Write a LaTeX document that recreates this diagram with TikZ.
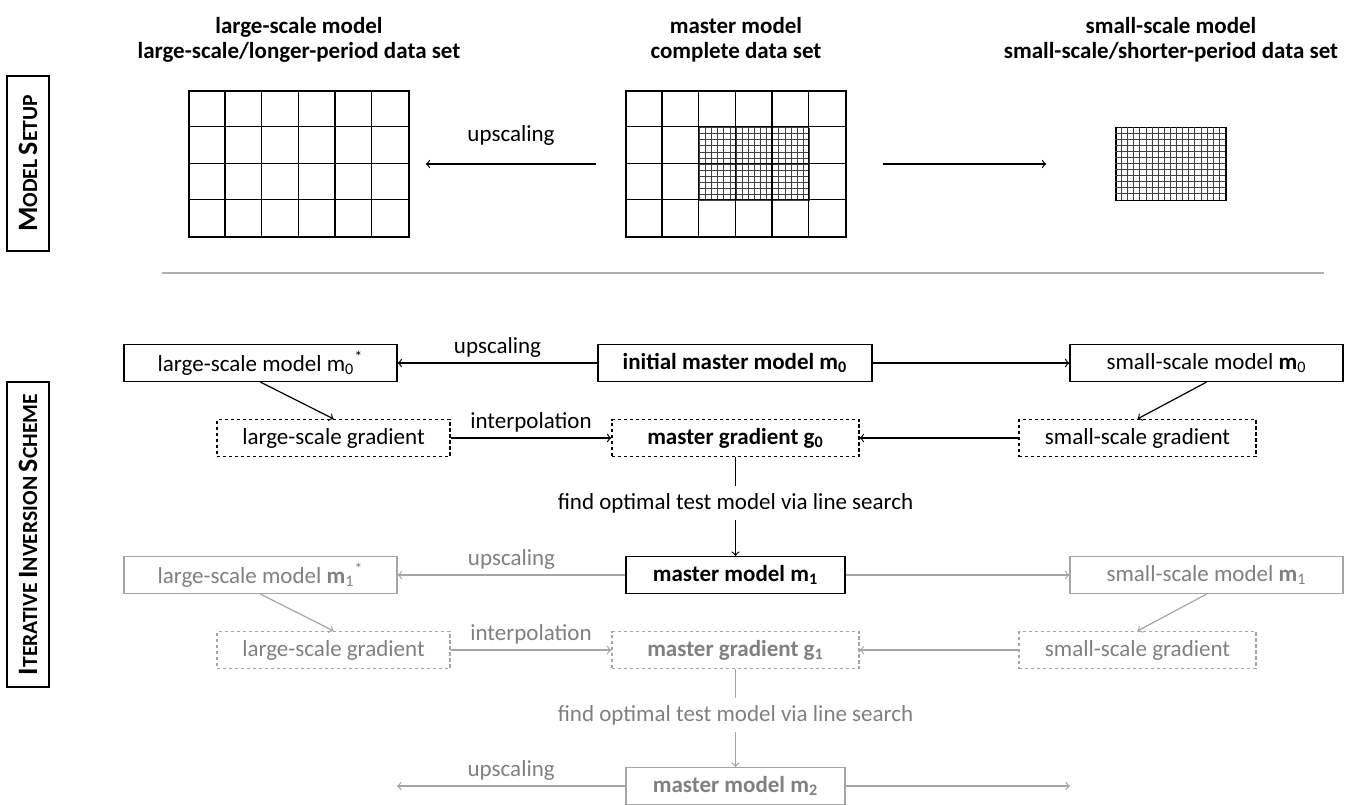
\documentclass[tikz,border=0pt]{standalone}
\usepackage{fontspec}
\setmainfont{Carlito}
\usetikzlibrary{positioning}

\definecolor{fadeline}{RGB}{165,165,165}
\definecolor{fadetext}{RGB}{128,128,128}
\definecolor{sepgray}{RGB}{175,175,175}

\newcommand{\boxfont}{\fontsize{11.5}{12.5}\selectfont}
\newcommand{\capsc}[2]{{\fontsize{14}{15}\selectfont #1}{\fontsize{10.8}{12}\selectfont #2}}

\begin{document}
\begin{tikzpicture}[x=0.5pt, y=-0.5pt, line width=0.6pt,
    every node/.style={font=\boxfont},
    modelbox/.style={draw, inner sep=0pt, minimum height=18.5pt},
    gradbox/.style={modelbox, dash pattern=on 1.6pt off 1.4pt},
    fadebox/.style={draw=fadeline, text=fadetext},
    gridframe/.style={draw, inner sep=0pt, line width=0.7pt},
    fineline/.style={line width=0.3pt, draw=black!75},
    lbl/.style={inner sep=2pt},
    sidebox/.style={draw, rotate=90, inner sep=0pt, minimum height=21pt, line width=0.7pt, font=\bfseries}]
    \useasboundingbox (0,0) rectangle (1352,804);

    \node[sidebox, minimum width=87.5pt] (setup) at (28,163.5) {\capsc{M}{ODEL} \capsc{S}{ETUP}};
    \node[sidebox, minimum width=152.5pt] (scheme) at (28,534.5) {\capsc{I}{TERATIVE} \capsc{I}{NVERSION} \capsc{S}{CHEME}};

    \node[align=center, font=\boxfont\bfseries] (lhead) at (299,40) {large-scale model\\large-scale/longer-period data set};
    \node[align=center, font=\boxfont\bfseries] (mhead) at (736,40) {master model\\complete data set};
    \node[align=center, font=\boxfont\bfseries] (shead) at (1171,40) {small-scale model\\small-scale/shorter-period data set};

    \node[gridframe, minimum width=110pt, minimum height=73pt] (lgrid) at (299,164) {};
    \foreach \i in {1,...,5}
        \draw (lgrid.north west) ++(\i*36.67,0) -- ++(0,146);
    \foreach \j in {1,...,3}
        \draw (lgrid.north west) ++(0,\j*36.5) -- ++(220,0);

    \node[gridframe, minimum width=110pt, minimum height=73pt] (mgrid) at (736,164) {};
    \coordinate (fine) at (699.3,127.5);
    \foreach \i in {0,...,18}
        \draw[fineline] (fine) ++(\i*6.111,0) -- ++(0,73);
    \foreach \j in {0,...,12}
        \draw[fineline] (fine) ++(0,\j*6.083) -- ++(110,0);
    \foreach \i in {1,...,5}
        \draw (mgrid.north west) ++(\i*36.67,0) -- ++(0,146);
    \foreach \j in {1,...,3}
        \draw (mgrid.north west) ++(0,\j*36.5) -- ++(220,0);

    \node[gridframe, minimum width=55pt, minimum height=36.5pt] (sgrid) at (1171,164) {};
    \foreach \i in {1,...,17}
        \draw[fineline] (sgrid.north west) ++(\i*6.111,0) -- ++(0,73);
    \foreach \j in {1,...,11}
        \draw[fineline] (sgrid.north west) ++(0,\j*6.083) -- ++(110,0);

    \draw[->] ([xshift=-14.5pt]mgrid.west) -- node[lbl, above=7pt] {upscaling} ([xshift=8pt]lgrid.east);
    \draw[->] ([xshift=18pt]mgrid.east) -- ([xshift=-34.5pt]sgrid.west);

    \draw[sepgray, line width=1pt] (162,273) -- (1324,273);

    \node[modelbox, minimum width=136.5pt] (lsm0) at (260.5,363) {large-scale model m\textsubscript{0}\textsuperscript{*}};
    \node[modelbox, minimum width=137pt, font=\boxfont\bfseries] (mm0) at (735,363) {initial master model m\textsubscript{0}};
    \node[modelbox, minimum width=136.5pt] (ssm0) at (1206.5,363) {small-scale model \textbf{m}\textsubscript{0}};

    \node[gradbox, minimum width=116.5pt] (lsg0) at (333.5,438) {large-scale gradient};
    \node[gradbox, minimum width=123.5pt, font=\boxfont\bfseries] (mg0) at (735.5,438) {master gradient g\textsubscript{0}};
    \node[gradbox, minimum width=118.5pt] (ssg0) at (1137.5,438) {small-scale gradient};
    \node (find0) at (735.5,503) {find optimal test model via line search};

    \node[modelbox, fadebox, minimum width=136.5pt] (lsm1) at (260.5,575) {large-scale model \textbf{m}\textsubscript{1}\textsuperscript{*}};
    \node[modelbox, minimum width=109.5pt, font=\boxfont\bfseries] (mm1) at (735.5,575) {master model m\textsubscript{1}};
    \node[modelbox, fadebox, minimum width=136.5pt] (ssm1) at (1206.5,575) {small-scale model \textbf{m}\textsubscript{1}};

    \node[gradbox, fadebox, minimum width=116.5pt] (lsg1) at (333.5,650) {large-scale gradient};
    \node[gradbox, fadebox, minimum width=123.5pt, font=\boxfont\bfseries] (mg1) at (735.5,650) {master gradient g\textsubscript{1}};
    \node[gradbox, fadebox, minimum width=118.5pt] (ssg1) at (1137.5,650) {small-scale gradient};
    \node[text=fadetext] (find1) at (735.5,715) {find optimal test model via line search};

    \node[modelbox, fadebox, minimum width=109.5pt, font=\boxfont\bfseries] (mm2) at (735.5,786) {master model m\textsubscript{2}};
    \coordinate (lsm2) at (397,786);
    \coordinate (ssm2) at (1070,786);

    \draw[->] (mm0) -- node[lbl, above=0.5pt] {upscaling} (lsm0);
    \draw[->] (mm0) -- (ssm0);
    \draw[->] (lsm0.south) -- (lsg0.north);
    \draw[->] (ssm0.south) -- (ssg0.north);
    \draw[->] (lsg0) -- node[lbl, above=0.5pt] {interpolation} (mg0);
    \draw[->] (ssg0) -- (mg0);
    \draw (mg0) -- (find0);
    \draw[->] (find0) -- (mm1);

    \draw[->, fadeline] (mm1) -- node[lbl, above=0.5pt, text=fadetext] {upscaling} (lsm1);
    \draw[->, fadeline] (mm1) -- (ssm1);
    \draw[->, fadeline] (lsm1.south) -- (lsg1.north);
    \draw[->, fadeline] (ssm1.south) -- (ssg1.north);
    \draw[->, fadeline] (lsg1) -- node[lbl, above=0.5pt, text=fadetext] {interpolation} (mg1);
    \draw[->, fadeline] (ssg1) -- (mg1);
    \draw[fadeline] (mg1) -- (find1);
    \draw[->, fadeline] (find1) -- (mm2);

    \draw[->, fadeline] (mm2) -- node[lbl, above=0.5pt, text=fadetext] {upscaling} (lsm2);
    \draw[->, fadeline] (mm2) -- (ssm2);
\end{tikzpicture}
\end{document}
